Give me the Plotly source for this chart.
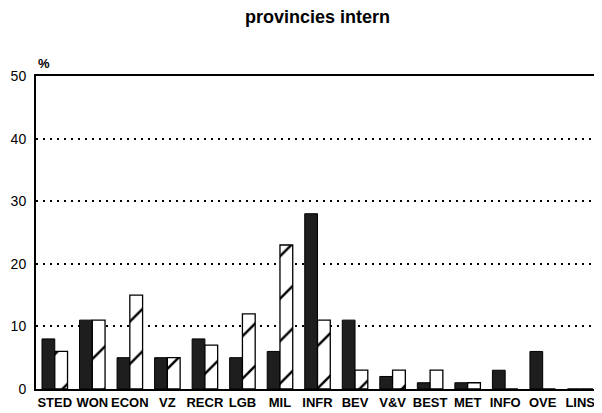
import plotly.graph_objects as go

categories = ["STED", "WON", "ECON", "VZ", "RECR", "LGB", "MIL", "INFR",
              "BEV", "V&V", "BEST", "MET", "INFO", "OVE", "LINS"]
dark_values = [8, 11, 5, 5, 8, 5, 6, 28, 11, 2, 1, 1, 3, 6, 0]
hatched_values = [6, 11, 15, 5, 7, 12, 23, 11, 3, 3, 3, 1, 0, 0, 0]
y_ticks = [0, 10, 20, 30, 40, 50]

font_family = "Liberation Sans, Arial, sans-serif"

fig = go.Figure()
fig.add_trace(go.Bar(
    x=categories, y=dark_values, name="a",
    marker=dict(color="#1e1e1e", line=dict(color="black", width=1)),
))
fig.add_trace(go.Bar(
    x=categories, y=hatched_values, name="b",
    marker=dict(color="white", line=dict(color="black", width=1.3),
                pattern=dict(shape="/", size=30, solidity=0.08,
                             fgcolor="black", fgopacity=1, bgcolor="white")),
))

# page body has an 8px default margin, so the figure is sized to fit the window
fig.update_layout(
    width=594, height=405,
    margin=dict(l=28, r=3, t=68, b=24, autoexpand=False),
    paper_bgcolor="white", plot_bgcolor="white",
    barmode="group", bargap=0.32, bargroupgap=0,
    showlegend=False,
    title=dict(text="<b>provincies intern</b>", xref="paper", x=0.5,
               xanchor="center", y=1 - 9 / 405, yanchor="middle",
               font=dict(family=font_family, size=18, color="black")),
    font=dict(family=font_family, color="black"),
)
fig.update_xaxes(
    showline=True, linecolor="black", linewidth=2, mirror=True,
    showgrid=False, ticks="", tickfont=dict(size=13, family=font_family),
    tickprefix="<b>", ticksuffix="</b>", automargin=False,
)
fig.update_yaxes(
    range=[0, 50], tickvals=y_ticks,
    showline=True, linecolor="black", linewidth=2, mirror=True,
    showgrid=True, gridcolor="black", griddash="2px,5px", gridwidth=1.5,
    zeroline=False, ticks="", tickfont=dict(size=14, family=font_family),
    tickprefix="<b>", ticksuffix="</b>", ticklabelstandoff=5, automargin=False,
)
fig.add_annotation(text="<b>%</b>", xref="paper", yref="paper", x=0.0, y=1.0,
                   xanchor="left", yanchor="bottom", yshift=3, showarrow=False,
                   font=dict(size=13, family=font_family, color="black"))

fig.write_html("out.html")
